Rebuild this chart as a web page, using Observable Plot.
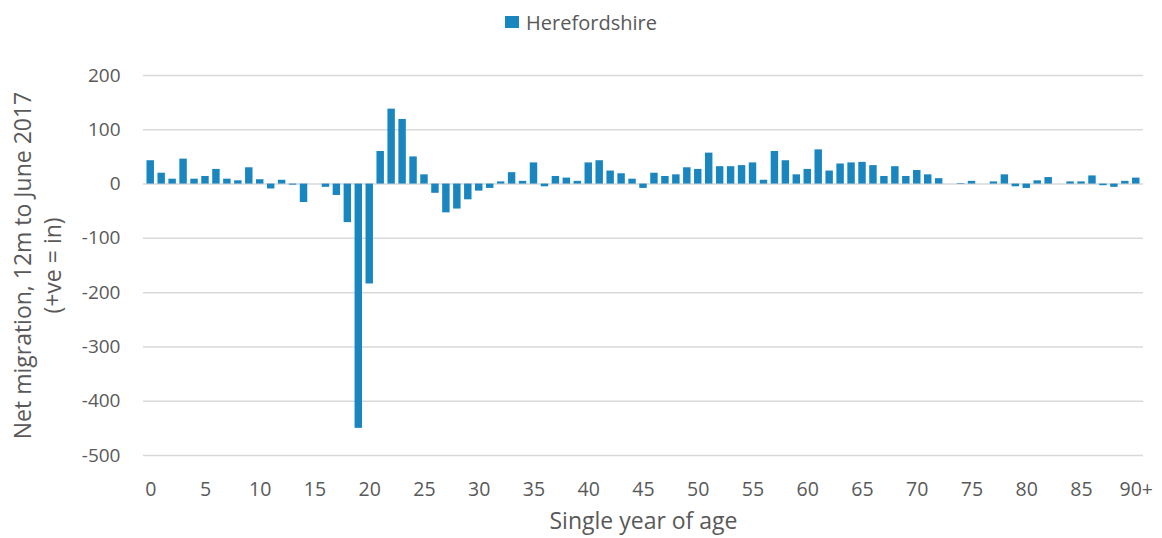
<!DOCTYPE html>
<html>
<head>
<meta charset="utf-8">
<script src="https://cdn.jsdelivr.net/npm/d3@7"></script>
<script src="https://cdn.jsdelivr.net/npm/@observablehq/plot@0.6"></script>
<style>
  body { margin: 0; background: #fff; font-family: "Open Sans", Lato, sans-serif; }
  #legend { height: 44px; display: flex; justify-content: center; align-items: center; color: #595959; font-size: 20px; }
  #legend .sw { width: 14px; height: 12px; background: #1a86c0; margin-right: 7px; }
</style>
</head>
<body>
<div id="legend"><span class="sw"></span><span>Herefordshire</span></div>
<div id="chart"></div>
<script>
const ages = d3.range(0, 90).map(String).concat(["90+"]);
const netMigration = [
  43, 20, 9, 46, 9, 14, 27, 9, 6, 30,
  8, -9, 7, -2, -34, 0, -6, -21, -71, -450,
  -184, 60, 138, 119, 50, 17, -17, -53, -46, -29,
  -13, -8, 4, 21, 5, 39, -5, 14, 11, 5,
  39, 43, 24, 19, 9, -8, 20, 14, 17, 30,
  27, 57, 32, 32, 34, 39, 7, 60, 43, 17,
  27, 63, 24, 37, 39, 40, 34, 14, 32, 14,
  25, 17, 10, 0, 1, 5, 0, 4, 17, -5,
  -8, 6, 12, 0, 4, 4, 15, -3, -6, 5,
  11
];
const yTicks = [200, 100, 0, -100, -200, -300, -400, -500];
const seriesName = "Herefordshire";
const yTitle1 = "Net migration, 12m to June 2017";
const yTitle2 = "(+ve = in)";
const xTitle = "Single year of age";

const data = ages.map((a, i) => ({age: a, value: netMigration[i]}));
const tickAges = ages.filter((a, i) => i % 5 === 0);
const font = "'Open Sans', Lato, sans-serif";

const chart = Plot.plot({
  width: 1162,
  height: 494,
  marginLeft: 143,
  marginRight: 19,
  marginTop: 31,
  marginBottom: 83,
  style: {fontFamily: font, fontSize: "19px", color: "#595959", background: "#fff"},
  x: {type: "band", domain: ages, padding: 0.32, axis: null},
  y: {domain: [-500, 200], axis: null},
  marks: [
    Plot.ruleY(yTicks, {stroke: "#d9d9d9", strokeWidth: 1.5}),
    Plot.barY(data, {x: "age", y: "value", fill: "#1a86c0"}),
    Plot.axisY({ticks: yTicks, tickFormat: d => String(d), tickSize: 0, tickPadding: 23, label: null, fill: "#595959", fontSize: 19}),
    Plot.axisX({ticks: tickAges, tickSize: 0, tickPadding: 27, label: null, fill: "#595959", fontSize: 19.5}),
    Plot.text([yTitle1], {frameAnchor: "left", textAnchor: "middle", text: d => d, rotate: -90, dx: -120, fill: "#595959", fontSize: 23}),
    Plot.text([yTitle2], {frameAnchor: "left", textAnchor: "middle", text: d => d, rotate: -90, dx: -90, fill: "#595959", fontSize: 23}),
    Plot.text([xTitle], {frameAnchor: "bottom", text: d => d, dy: 73, fill: "#595959", fontSize: 23})
  ]
});
document.getElementById("chart").appendChild(chart);
</script>
</body>
</html>
